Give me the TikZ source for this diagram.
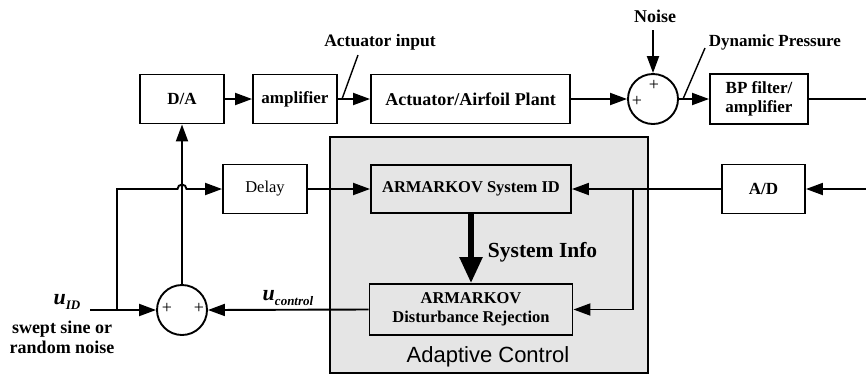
\documentclass[tikz,border=0pt]{standalone}
\usepackage{fontspec}
\setmainfont{Liberation Serif}
\setsansfont{Liberation Sans}
\usetikzlibrary{arrows.meta}

\newcommand\fsz[2]{\fontsize{#1}{#2}\selectfont}
% bold italic u with a lowered subscript
\newcommand\usig[1]{{\fsz{22}{22}\bfseries\itshape u}\raisebox{-5pt}{\fsz{13}{13}\bfseries\itshape #1}}

\begin{document}
\begin{tikzpicture}[x=1pt,y=-1pt,line width=1.9pt,
  blk/.style={draw,rectangle,inner sep=0pt,align=center,font=\fsz{17}{19}\bfseries},
  sumnode/.style={draw,circle,minimum size=50pt,inner sep=0pt},
  plus/.style={font=\fsz{18}{18}},
  lbl/.style={font=\fsz{17}{19}\bfseries,inner sep=0pt},
  arr/.style={-{Triangle[length=17pt,width=12pt]}},
  bigarr/.style={line width=5.5pt,-{Triangle[length=26pt,width=22pt]}}]
\useasboundingbox (0,0) rectangle (866,376);

% adaptive control block
\node[draw,fill=gray!20,minimum width=318pt,minimum height=236pt,inner sep=0pt] (adapt) at (489,255) {};
\node[font=\fsz{22}{24}\sffamily,inner sep=0pt] (adlabel) at (488,357) {Adaptive Control};

% forward path
\node[blk,minimum width=84pt,minimum height=49pt] (da) at (182,99) {D/A};
\node[blk,minimum width=84pt,minimum height=49pt] (amp) at (295,99) {amplifier};
\node[blk,minimum width=199pt,minimum height=49pt,font=\fsz{18}{20}\bfseries] (plant) at (470.5,99) {Actuator/Airfoil Plant};
\node[sumnode] (sum1) at (653,99) {};
\node[plus] (p1a) at (654,85) {+};
\node[plus] (p1b) at (637,101) {+};
\node[blk,minimum width=98pt,minimum height=50pt] (bp) at (759,99) {BP filter/\\amplifier};
\coordinate (bpout) at (866,99);

% feedback path
\coordinate (rin) at (866,189);
\node[blk,minimum width=83pt,minimum height=49pt] (ad) at (763.5,189) {A/D};
\node[blk,minimum width=200pt,minimum height=48pt,font=\fsz{16.5}{19}\bfseries] (sysid) at (471,189) {ARMARKOV System ID};
\node[blk,minimum width=203pt,minimum height=51pt,font=\fsz{16.5}{19}\bfseries] (dist) at (471,309.5) {ARMARKOV\\Disturbance Rejection};
\node[blk,minimum width=84pt,minimum height=49pt,font=\fsz{16.5}{19}] (delay) at (265,189) {Delay};
\node[sumnode] (sum2) at (182,310) {};
\node[plus] (p2a) at (167,308) {+};
\node[plus] (p2b) at (199,308) {+};

% labels
\node[lbl,font=\fsz{18}{20}\bfseries] (noise) at (655,16) {Noise};
\node[lbl,anchor=west] (dynp) at (708,42) {Dynamic Pressure};
\node[lbl,font=\fsz{17.5}{20}\bfseries] (actin) at (380,42) {Actuator input};
\node[font=\fsz{21.5}{24}\bfseries,inner sep=0pt,anchor=west] (sinfo) at (487,252) {System Info};
\node[inner sep=0pt] (uctl) at (288,298) {\usig{control}};
\node[inner sep=0pt] (uid) at (67,302) {\usig{ID}};
\node[font=\fsz{18}{20}\bfseries,align=center,inner sep=0pt] (uidtxt) at (62,337) {swept sine or\\random noise};

% forward connectors
\draw[arr] (da) -- (amp);
\draw[arr] (amp) -- (plant);
\draw[arr] (plant) -- (sum1);
\draw[arr] (sum1) -- (bp);
\draw (bp) -- (bpout);
\coordinate (ntop) at (653,30);
\draw[arr] (ntop) -- (sum1.north);

% pointer lines for the signal labels
\coordinate (ai1) at (358,55);
\coordinate (ai2) at (342,99);
\draw[line width=1.4pt] (ai1) -- (ai2);
\coordinate (dp1) at (705,48);
\coordinate (dp2) at (683,99);
\draw[line width=1.4pt] (dp1) -- (dp2);

% feedback connectors
\draw[arr] (rin) -- (ad);
\draw[arr] (ad) -- (sysid);
\coordinate (br) at (633,189);
\coordinate (brd) at (633,309.5);
\draw[arr] (br) -- (brd) -- (dist.east);
\draw[arr] (delay) -- (sysid);
\draw[bigarr] (sysid.south) -- (dist.north);
\draw[arr] (dist.west) -- (sum2.east);

% excitation input and its branch to the delay
\coordinate (uin) at (90,310);
\coordinate (bj) at (117,310);
\coordinate (bk) at (117,189);
\coordinate (hop) at (177.5,189);
\draw[arr] (uin) -- (sum2.west);
\draw[arr] (bj) -- (bk) -- (hop) arc[start angle=180,end angle=360,radius=4.5] -- (delay.west);
\draw[arr] (sum2.north) -- (da.south);
\end{tikzpicture}
\end{document}
